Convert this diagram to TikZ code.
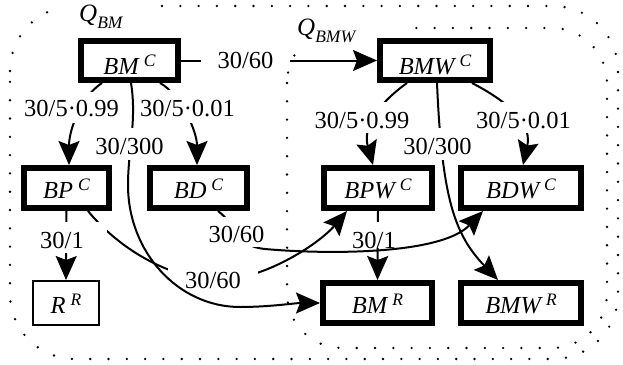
\documentclass[tikz,border=0pt]{standalone}
\usepackage{fontspec}
\setmainfont{Liberation Serif}
\newfontfamily\timesface{Liberation Serif}
\usetikzlibrary{arrows.meta}
% italic state name with a raised superscript, and a name with a lowered subscript
\newcommand\supname[2]{#1\hspace{5pt}\raisebox{8pt}{\fontsize{17.5}{17.5}\selectfont #2}}
\newcommand\subname[2]{#1\raisebox{-7.5pt}{\fontsize{17.5}{17.5}\selectfont #2}}

\begin{document}
\begin{tikzpicture}[x=1pt,y=-1pt,
  state/.style={draw, fill=white, line width=6pt, inner sep=0pt,
    text height=21pt, text depth=0pt, font=\timesface\fontsize{24.5}{24.5}\selectfont\itshape},
  toprow/.style={text height=27pt},
  thinstate/.style={state, line width=2pt},
  conn/.style={line width=2pt},
  tip/.style={-{Stealth[length=24pt,width=21pt,inset=4pt]}},
  rate/.style={fill=white, inner sep=0pt, anchor=base,
    font=\timesface\fontsize{24.5}{24.5}\selectfont},
  region/.style={line width=2.6pt, line cap=round, dash pattern=on 0pt off 18.3pt},
  qlabel/.style={anchor=base west, inner sep=0pt, font=\timesface\fontsize{25}{25}\selectfont\itshape}]

\useasboundingbox (0,0) rectangle (623,364);

% ---- dotted regions ----
% Q_BM (outer)
\draw[region, rounded corners=65pt] (162,6) -- (618,6) -- (618,359) -- (10,359) -- (10,71);
\draw[region] (10,71) .. controls (10,45.7) and (24.6,22.8) .. (47.5,12.1);
% Q_BMW (inner)
\draw[region] (294.4,55.5) .. controls (289.6,63.9) and (287,73.4) .. (287,83);
\draw[region, rounded corners=55pt] (287,83) -- (287,348) -- (607,348) -- (607,28) -- (400,28);

\node[qlabel] (qbm) at (79,21) {\subname{Q}{BM}};
\node[qlabel] (qbmw) at (297,35) {\subname{Q}{BMW}};

% ---- states ----
\node[state,toprow,minimum width=97pt,minimum height=39pt]  (BMC)  at (129.5,60.5) {\supname{BM}{C}};
\node[state,toprow,minimum width=110pt,minimum height=39pt] (BMWC) at (435,60.5)   {\supname{BMW}{C}};
\node[state,minimum width=85pt,minimum height=40pt]  (BPC)  at (66.5,188)  {\supname{BP}{C}};
\node[state,minimum width=97pt,minimum height=40pt]  (BDC)  at (198.5,188) {\supname{BD}{C}};
\node[state,minimum width=108pt,minimum height=40pt] (BPWC) at (378,188)   {\supname{BPW}{C}};
\node[state,minimum width=120pt,minimum height=40pt] (BDWC) at (521,188)   {\supname{BDW}{C}};
\node[thinstate,minimum width=66pt,minimum height=44pt] (RR) at (66,303)  {\supname{R}{R}};
\node[state,minimum width=109pt,minimum height=40pt] (BMR)  at (377.5,303) {\supname{BM}{R}};
\node[state,minimum width=120pt,minimum height=40pt] (BMWR) at (521,303)   {\supname{BMW}{R}};

% ---- transitions (drawn in layers so the rate boxes cut only their own lines) ----
\draw[conn,tip] (BPWC.south) -- (BMR.north);
\node[rate, text height=26pt, text depth=0pt, minimum width=46pt] (r1) at (374,248) {30/1};

\draw[conn,tip] ([xshift=21.5pt]BPC.south) .. controls (120,250) and (170,278) .. (215,280)
  .. controls (260,282) and (318,245) .. ([xshift=-31pt]BPWC.south);
\node[rate, text height=26pt, text depth=2pt, minimum width=90pt] (r2) at (213,288) {30/60};

\draw[conn,tip] (BPC.south) -- (RR.north);
\node[rate, text height=26pt, text depth=5pt, minimum width=90pt] (r3) at (62,248) {30/1};

\draw[conn,tip] ([xshift=19.5pt]BDC.south) .. controls (240,228) and (235,246) .. (265,249)
  .. controls (320,254) and (440,256) .. ([xshift=-38pt]BDWC.south);
\node[rate, text height=25pt, text depth=5pt, minimum width=59pt] (r4) at (236.5,242) {30/60};

\draw[conn,tip] ([xshift=1.5pt]BMC.south) .. controls (137,120) and (128,150) .. (128,185)
  .. controls (128,252) and (178,307) .. (240,307)
  .. controls (270,307) and (295,303) .. (BMR.west);
\node[rate, text height=26pt, text depth=6pt, minimum width=69pt] (r5) at (129.5,154) {30/300};

\draw[conn,tip] ([xshift=-27.5pt]BMC.south) .. controls (81,96.5) and (69,130) .. ([xshift=2.5pt]BPC.north);
\node[rate, text height=24pt, text depth=7pt, minimum width=95pt] (r6) at (71.5,116) {30/5·0.99};

\draw[conn,tip] ([xshift=30.5pt]BMC.south) .. controls (179.5,93.5) and (197,130) .. ([xshift=-1.5pt]BDC.north);
\node[rate, text height=26pt, text depth=7pt, minimum width=93pt] (r7) at (187.5,116) {30/5·0.01};

\draw[conn,tip] ([xshift=-28pt]BMWC.south) .. controls (375,106) and (363,129) .. ([xshift=-5pt]BPWC.north);
\node[rate, text height=26pt, text depth=5pt, minimum width=94pt] (r8) at (362,128) {30/5·0.99};

\draw[conn,tip] ([xshift=37pt]BMWC.south) .. controls (520,108) and (531,129) .. ([xshift=2pt]BDWC.north);
\node[rate, text height=26pt, text depth=5pt, minimum width=91pt] (r9) at (523.5,128) {30/5·0.01};

\draw[conn,tip] ([xshift=2pt]BMWC.south) .. controls (442,200) and (455,235) .. ([xshift=-23pt]BMWR.north);
\node[rate, text height=26pt, text depth=6pt, minimum width=69pt] (r10) at (437.5,154) {30/300};

\draw[conn,tip] (BMC.east) -- (BMWC.west);
\node[rate, text height=14pt, text depth=2pt, minimum width=89pt] (r11) at (245.5,68) {30/60};

\end{tikzpicture}
\end{document}
